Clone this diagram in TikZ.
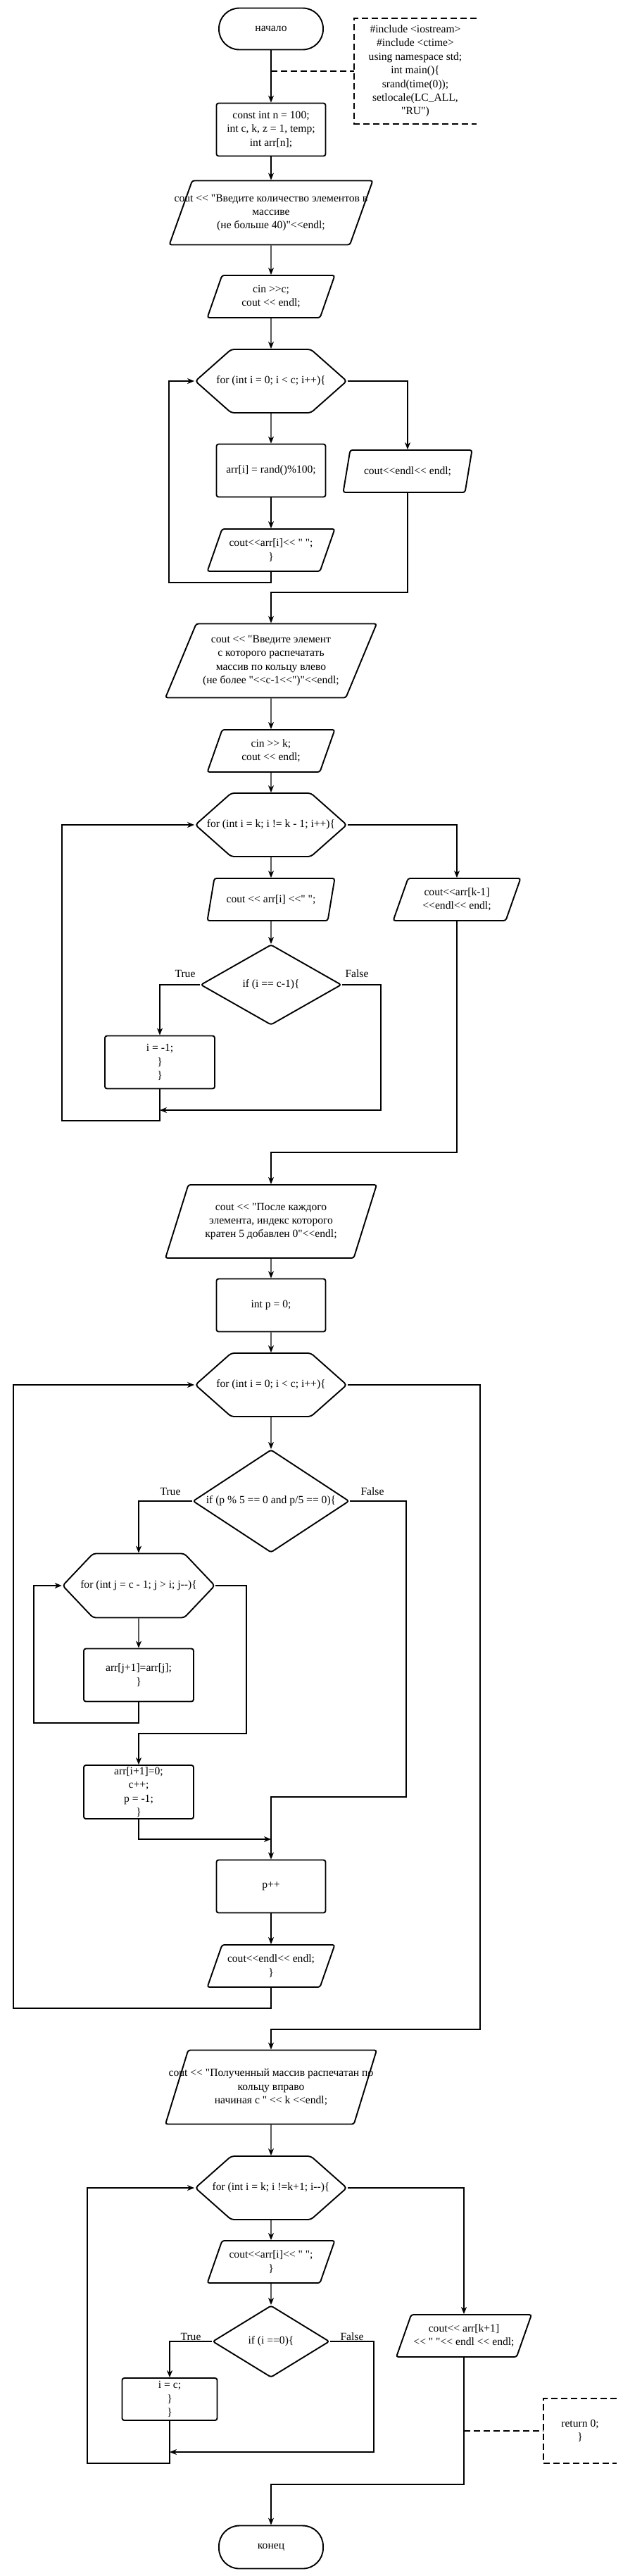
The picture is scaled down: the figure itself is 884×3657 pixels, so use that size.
\documentclass[tikz,border=0pt]{standalone}
\usepackage{fontspec}
\usepackage{tikz}
\usetikzlibrary{shapes.geometric,shapes.symbols,arrows.meta}
\newfontfamily\schemefont{Liberation Serif}

\tikzset{
  term/.style={draw,line width=1.9pt,rounded corners=29pt,minimum width=148pt,minimum height=59pt},
  proc/.style={draw,line width=1.9pt,rounded corners=3pt,minimum width=155pt,minimum height=75pt,inner sep=1pt,align=center},
  io/.style={draw,line width=1.9pt,rounded corners=3pt,trapezium,trapezium left angle=60,trapezium right angle=120,trapezium stretches body,minimum width=181pt,minimum height=60pt,inner sep=2pt,align=center},
  hexa/.style={draw,line width=1.9pt,rounded corners=4pt,signal,signal to=west and east,signal pointer angle=83,minimum width=215pt,minimum height=90pt,inner ysep=2pt,inner xsep=-40pt,align=center},
  cond/.style={draw,line width=1.9pt,rounded corners=3pt,diamond,aspect=1.5,inner sep=2pt,align=center},
  note/.style={align=center,minimum width=173pt,minimum height=150pt},
  note line/.style={line width=1.9pt,dash pattern=on 9pt off 5pt},
  arr/.style={line width=1.3pt,-{Stealth[length=10pt,width=8pt,inset=3pt]}},
  lbl/.style={inner sep=0pt}
}

\begin{document}
\begin{tikzpicture}[x=1pt,y=-1pt,font=\schemefont\fontsize{15.6pt}{19.4pt}\selectfont]
\fill [white] (0,0) rectangle (884,3657);
\useasboundingbox (0,0) rectangle (884,3657);

\node [term] (start) at (385,41) {начало};
\node [note] (com1) at (590,101) {\#include <iostream>\\\#include <ctime>\\using namespace std;\\int main()\{\\srand(time(0));\\setlocale(LC\_ALL,\\"RU")};
\node [proc] (init) at (385,184) {const int n = 100;\\int c, k, z = 1, temp;\\int arr[n];};
\node [io,minimum width=289pt,minimum height=91pt] (in1) at (385,302) {\makebox[0pt]{cout << "Введите количество элементов в}\\массиве\\(не больше 40)"<<endl;};
\node [io] (in2) at (385,421) {cin >>c;\\cout << endl;};
\node [hexa] (for1) at (385,541) {for (int i = 0; i < c; i++)\{};
\node [proc] (set1) at (385,668) {arr[i] = rand()\%100;};
\node [io] (out1) at (385,781) {cout<<arr[i]<< " ";\\\}};
\node [io,minimum width=183pt] (out2) at (579,669) {cout<<endl<< endl;};
\node [io,minimum width=300pt,minimum height=105pt] (in3) at (385,938) {cout << "Введите элемент\\с которого распечатать\\массив по кольцу влево\\(не более "<<c-1<<")"<<endl;};
\node [io] (in4) at (385,1066) {cin >> k;\\cout << endl;};
\node [hexa] (for2) at (385,1171) {for (int i = k; i != k - 1; i++)\{};
\node [io] (out3) at (385,1277) {cout << arr[i] <<" ";};
\node [io] (out4) at (649,1277) {cout<<arr[k-1]\\<<endl<< endl;};
\node [cond,minimum width=200pt,minimum height=114pt] (if1) at (385,1398) {if (i == c-1)\{};
\node [proc,minimum width=156pt] (set2) at (227,1508) {i = -1;\\\}\\\}};
\node [lbl] (t1) at (263,1382) {True};
\node [lbl] (f1) at (507,1382) {False};
\node [io,minimum width=300pt,minimum height=104pt] (out5) at (385,1734) {cout << "После каждого\\элемента, индекс которого\\кратен 5 добавлен 0"<<endl;};
\node [proc] (set3) at (385,1853) {int p = 0;};
\node [hexa] (for3) at (385,1966) {for (int i = 0; i < c; i++)\{};
\node [cond,minimum width=222pt,minimum height=146pt] (if2) at (385,2131) {if (p \% 5 == 0 and p/5 == 0)\{};
\node [lbl] (t2) at (242,2117) {True};
\node [lbl] (f2) at (529,2117) {False};
\node [hexa,signal pointer angle=93,minimum width=216pt,minimum height=91pt] (for4) at (197,2251) {for (int j = c - 1; j > i; j--)\{};
\node [proc,minimum width=156pt] (set4) at (197,2378) {arr[j+1]=arr[j];\\\}};
\node [proc,minimum width=156pt,minimum height=76pt] (set5) at (197,2544) {arr[i+1]=0;\\c++;\\p = -1;\\\}};
\node [proc] (set6) at (385,2678) {p++};
\node [io] (out6) at (385,2791) {cout<<endl<< endl;\\\}};
\node [io,minimum width=300pt,minimum height=105pt] (out7) at (385,2963) {\makebox[0pt]{cout << "Полученный массив распечатан по}\\кольцу вправо\\начиная с " << k <<endl;};
\node [hexa] (for5) at (385,3106) {for (int i = k; i !=k+1; i--)\{};
\node [io] (out8) at (385,3211) {cout<<arr[i]<< " ";\\\}};
\node [cond,minimum width=166pt,minimum height=102pt] (if3) at (385,3324) {if (i ==0)\{};
\node [lbl] (t3) at (271,3317) {True};
\node [lbl] (f3) at (500,3317) {False};
\node [proc,minimum width=135pt,minimum height=60pt] (set7) at (241,3406) {i = c;\\\}\\\}};
\node [io,minimum width=192pt] (out9) at (659,3316) {cout<< arr[k+1]\\<< " "<< endl << endl;};
\node [term,minimum height=61pt] (stop) at (385,3616) {конец};
\node [note,minimum width=104pt,minimum height=91pt] (com2) at (824,3451) {return 0;\\\}};

\coordinate (m1) at (227,1576);
\coordinate (m2) at (385,2611);
\coordinate (m3) at (241,3481);

\draw [note line] (com1.north east) -- (com1.north west) -- (com1.south west) -- (com1.south east);
\draw [note line] (start.south |- com1.west) -- (com1.west);
\draw [arr] (start) -- (init);
\draw [arr] (init) -- (in1);
\draw [arr] (in1) -- (in2);
\draw [arr] (in2) -- (for1);
\draw [arr] (for1) -- (set1);
\draw [arr] (set1) -- (out1);
\draw [arr] (out1) |- (240,827) |- (for1.west);
\draw [arr] (for1.east) -| (out2);
\draw [arr] (out2) |- (385,841) -- (in3);
\draw [arr] (in3) -- (in4);
\draw [arr] (in4) -- (for2);
\draw [arr] (for2) -- (out3);
\draw [arr] (out3) -- (if1);
\draw [arr] (for2.east) -| (out4);
\draw [arr] (if1.west) -| (set2);
\draw [arr] (if1.east) -| (541,1576) -- (m1);
\draw [arr] (set2) |- (88,1591) |- (for2.west);
\draw [arr] (out4) |- (385,1636) -- (out5);
\draw [arr] (out5) -- (set3);
\draw [arr] (set3) -- (for3);
\draw [arr] (for3) -- (if2);
\draw [arr] (if2.west) -| (for4);
\draw [arr] (for4) -- (set4);
\draw [arr] (set4) |- (48,2446) |- (for4.west);
\draw [arr] (for4.east) -| (350,2461) -| (set5);
\draw [arr] (set5) |- (m2);
\draw [arr] (if2.east) -| (577,2551) -| (set6);
\draw [arr] (set6) -- (out6);
\draw [arr] (out6) |- (19,2851) |- (for3.west);
\draw [arr] (for3.east) -| (682,2881) -| (out7);
\draw [arr] (out7) -- (for5);
\draw [arr] (for5) -- (out8);
\draw [arr] (out8) -- (if3);
\draw [arr] (for5.east) -| (out9);
\draw [arr] (if3.west) -| (set7);
\draw [arr] (if3.east) -| (531,3481) -- (m3);
\draw [arr] (set7) |- (124,3497) |- (for5.west);
\draw [arr] (out9) |- (385,3527) -- (stop);
\draw [note line] (com2.north east) -- (com2.north west) -- (com2.south west) -- (com2.south east);
\draw [note line] (out9 |- com2.west) -- (com2.west);
\end{tikzpicture}
\end{document}
